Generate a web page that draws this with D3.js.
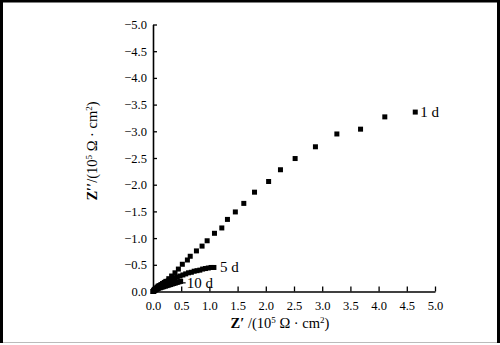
<!DOCTYPE html>
<html>
<head>
<meta charset="utf-8">
<script src="https://cdn.jsdelivr.net/npm/d3@7"></script>
<style>
  body { margin: 0; background: #fff; }
  svg { display: block; font-family: "Liberation Serif", "DejaVu Serif", serif; }
</style>
</head>
<body>
<svg id="chart" width="500" height="345"></svg>
<script>
// series (x = Z', y = Z'')
var day1X = [0.01, 0.02, 0.04, 0.07, 0.10, 0.14, 0.18, 0.23, 0.28, 0.33, 0.39, 0.45, 0.52, 0.61, 0.66, 0.77,
             0.87, 0.96, 1.09, 1.22, 1.32, 1.46, 1.61, 1.80, 2.05, 2.26, 2.52, 2.88, 3.26, 3.68, 4.11, 4.65];
var day1Y = [0.00, -0.01, -0.03, -0.05, -0.08, -0.11, -0.15, -0.19, -0.24, -0.29, -0.35, -0.42, -0.51, -0.59, -0.66, -0.76,
             -0.85, -0.95, -1.09, -1.19, -1.35, -1.49, -1.65, -1.86, -2.06, -2.28, -2.49, -2.71, -2.95, -3.04, -3.27, -3.36];

var day5X = [0.00, 0.01, 0.02, 0.03, 0.05, 0.07, 0.09, 0.11, 0.14, 0.17, 0.20, 0.23, 0.27, 0.31, 0.35, 0.39, 0.43,
             0.48, 0.53, 0.58, 0.63, 0.68, 0.73, 0.78, 0.83, 0.88, 0.93, 0.98, 1.03, 1.08];
var day5Y = [0.00, -0.01, -0.03, -0.04, -0.06, -0.08, -0.10, -0.11, -0.13, -0.15, -0.17, -0.18, -0.20, -0.22, -0.24, -0.26, -0.27,
             -0.29, -0.31, -0.33, -0.35, -0.36, -0.38, -0.39, -0.40, -0.42, -0.43, -0.44, -0.45, -0.45];

var day10X = [0.00, 0.01, 0.02, 0.04, 0.06, 0.08, 0.10, 0.13, 0.16, 0.19, 0.22, 0.25, 0.28, 0.31, 0.34, 0.37, 0.40, 0.43, 0.46, 0.49];
var day10Y = [0.00, -0.01, -0.02, -0.03, -0.04, -0.05, -0.06, -0.07, -0.08, -0.09, -0.10, -0.11, -0.12, -0.13, -0.14, -0.15, -0.16, -0.17, -0.18, -0.19];

var seriesNames = ["1 d", "5 d", "10 d"];
var xTicks = [0, 0.5, 1, 1.5, 2, 2.5, 3, 3.5, 4, 4.5, 5];
var yTicks = [0, -0.5, -1, -1.5, -2, -2.5, -3, -3.5, -4, -4.5, -5];

var svg = d3.select("#chart");

// photo frame
svg.append("rect").attr("x", 0).attr("y", 0).attr("width", 500).attr("height", 345).attr("fill", "#fff");
svg.append("path")
  .attr("d", "M1.5,343 L1.5,1 L498.5,1 L498.5,343")
  .attr("fill", "none").attr("stroke", "#000").attr("stroke-width", 3);
svg.append("line")
  .attr("x1", 3).attr("x2", 497).attr("y1", 342.5).attr("y2", 342.5)
  .attr("stroke", "#bbb").attr("stroke-width", 1);

var x = d3.scaleLinear().domain([0, 5]).range([153, 435]);
var y = d3.scaleLinear().domain([0, -5]).range([291.5, 24.5]);
var fmt = d3.format(".1f");

var gx = svg.append("g")
  .attr("transform", "translate(0,291.5)")
  .call(d3.axisBottom(x).tickValues(xTicks).tickFormat(fmt).tickSizeInner(-5).tickSizeOuter(0).tickPadding(10));
var gy = svg.append("g")
  .attr("transform", "translate(153,0)")
  .call(d3.axisLeft(y).tickValues(yTicks).tickFormat(fmt).tickSizeInner(-4).tickSizeOuter(0).tickPadding(6));

[gx, gy].forEach(function(g){
  g.select(".domain").attr("stroke", "#000").attr("stroke-width", 1.6);
  g.selectAll(".tick line").attr("stroke", "#000").attr("stroke-width", 1.3);
  g.selectAll(".tick text")
    .attr("fill", "#000")
    .style("font-family", "'Liberation Serif', serif")
    .style("font-size", "12.5px");
});

function drawSquares(xs, ys, size){
  var pts = xs.map(function(v, i){ return [v, ys[i]]; });
  svg.append("g").selectAll("rect")
    .data(pts)
    .join("rect")
    .attr("x", function(d){ return x(d[0]) - size / 2; })
    .attr("y", function(d){ return y(d[1]) - size / 2; })
    .attr("width", size)
    .attr("height", size)
    .attr("fill", "#000");
}

drawSquares(day10X, day10Y, 5);
drawSquares(day5X, day5Y, 5);
drawSquares(day1X, day1Y, 5);

// series labels
var n1 = day1X.length - 1, n5 = day5X.length - 1, n10 = day10X.length - 1;
svg.append("text")
  .attr("x", x(day1X[n1]) + 5).attr("y", y(day1Y[n1]) + 5)
  .style("font-size", "15px").text(seriesNames[0]);
svg.append("text")
  .attr("x", x(day5X[n5]) + 6).attr("y", y(day5Y[n5]) + 5)
  .style("font-size", "15px").text(seriesNames[1]);
svg.append("line")
  .attr("x1", x(day10X[n10]) - 2).attr("x2", x(day10X[n10]) + 5)
  .attr("y1", y(day10Y[n10]) + 1.5).attr("y2", y(day10Y[n10]) + 1.5)
  .attr("stroke", "#000").attr("stroke-width", 1.2);
svg.append("text")
  .attr("x", x(day10X[n10]) + 6).attr("y", y(day10Y[n10]) + 7)
  .style("font-size", "15px").text(seriesNames[2]);

// axis titles
function axisTitle(t, z){
  t.append("tspan").style("font-weight", "bold").text(z);
  t.append("tspan").text("/(10");
  t.append("tspan").attr("dy", -5).style("font-size", "9px").text("5");
  t.append("tspan").attr("dy", 5).text(" \u03A9 \u00B7 cm");
  t.append("tspan").attr("dy", -5).style("font-size", "9px").text("2");
  t.append("tspan").attr("dy", 5).text(")");
}
var xt = svg.append("text")
  .attr("x", 280).attr("y", 328)
  .attr("text-anchor", "middle")
  .style("font-size", "14.5px");
axisTitle(xt, "Z\u2032 ");

var yt = svg.append("text")
  .attr("transform", "translate(97,151) rotate(-90)")
  .attr("text-anchor", "middle")
  .style("font-size", "14.5px");
axisTitle(yt, "Z\u2032\u2032");
</script>
</body>
</html>
